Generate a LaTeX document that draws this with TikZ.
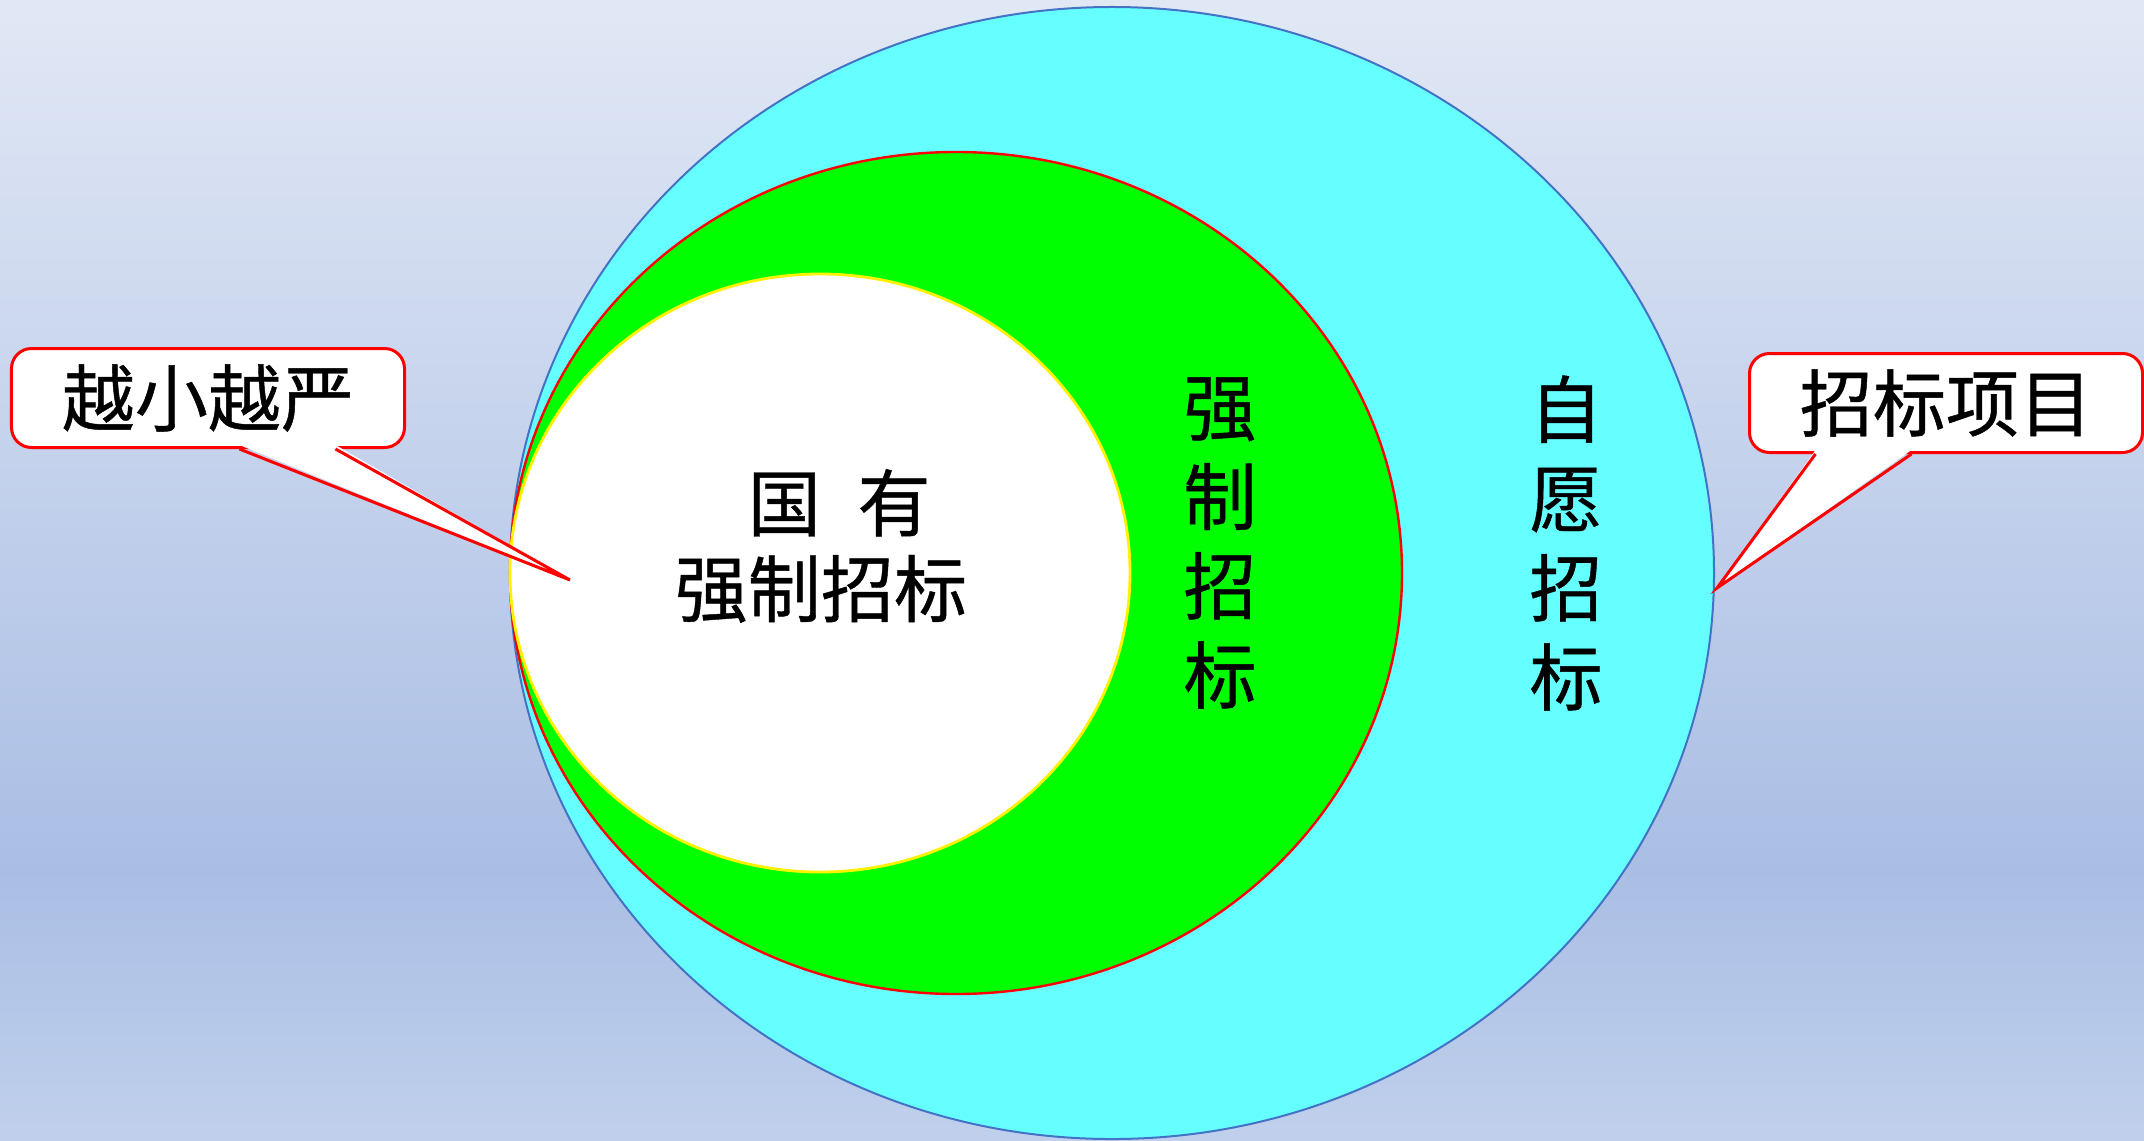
\documentclass[tikz,border=0pt]{standalone}
\usepackage{fontspec}
\setmainfont{Noto Sans CJK SC}[FakeBold=0.6]
\usetikzlibrary{calc, positioning}

\definecolor{bgtop}{HTML}{E1E8F5}
\definecolor{bgmid}{HTML}{AABEE4}
\definecolor{bgbot}{HTML}{C0D0EC}
\definecolor{rimblue}{HTML}{4472C4}
\definecolor{zonecyan}{HTML}{66FFFF}
\definecolor{zonegreen}{HTML}{00FF00}

\begin{document}
\begin{tikzpicture}[
  x=0.25mm, y=-0.25mm,
  zonetext/.style = {font=\fontsize{52}{63.5}\selectfont, align=center, inner sep=0pt},
  callout/.style = {draw=red, line width=0.75mm, fill=white, rounded corners=5mm,
                    minimum width=98.25mm, minimum height=24.75mm, inner sep=0pt,
                    font=\fontsize{52}{60}\selectfont},
  pointer/.style = {draw=red, line width=0.75mm}
]
  \useasboundingbox (0,0) rectangle (2144,1140);

  % Background
  \shade[top color=bgtop, bottom color=bgmid] (0,0) rectangle (2144,870);
  \shade[top color=bgmid, bottom color=bgbot] (0,870) rectangle (2144,1140);

  % Nested zones
  \draw[fill=zonecyan, draw=rimblue, line width=0.5mm]
    (1112,573) ellipse [x radius=150.5mm, y radius=141.5mm];
  \draw[fill=zonegreen, draw=red, line width=0.6mm]
    (956,573) ellipse [x radius=111.5mm, y radius=105.25mm];
  \draw[fill=white, draw=yellow, line width=0.7mm]
    (820,573) ellipse [x radius=77.5mm, y radius=74.75mm];

  % Zone labels
  \node[zonetext, font=\fontsize{52}{61}\selectfont] (stateown) at (821,546)
    {\hspace*{0.5em}国\hspace{0.5em}有\\强制招标};
  \node[zonetext] (mandatory) at (1220,543) {强\\制\\招\\标};
  \node[zonetext] (voluntary) at (1566,543) {自\\愿\\招\\标};

  % Left callout
  \coordinate (ltip) at (570,580);
  \node[callout] (lbox) at (208,398) {越小越严};
  \fill[white] ($(lbox.south west)+(229.5,-4)$) -- (ltip)
    -- ($(lbox.south west)+(325.5,-4)$) -- cycle;
  \draw[pointer] ($(lbox.south west)+(229.5,0)$) -- (ltip)
    -- ($(lbox.south west)+(325.5,0)$);

  % Right callout
  \coordinate (rtip) at (1717,588);
  \node[callout] (rbox) at (1946,403) {招标项目};
  \fill[white] ($(rbox.south west)+(67.5,-4)$) -- (rtip)
    -- ($(rbox.south west)+(163.5,-4)$) -- cycle;
  \draw[pointer] ($(rbox.south west)+(67.5,0)$) -- (rtip)
    -- ($(rbox.south west)+(163.5,0)$);

\end{tikzpicture}
\end{document}
